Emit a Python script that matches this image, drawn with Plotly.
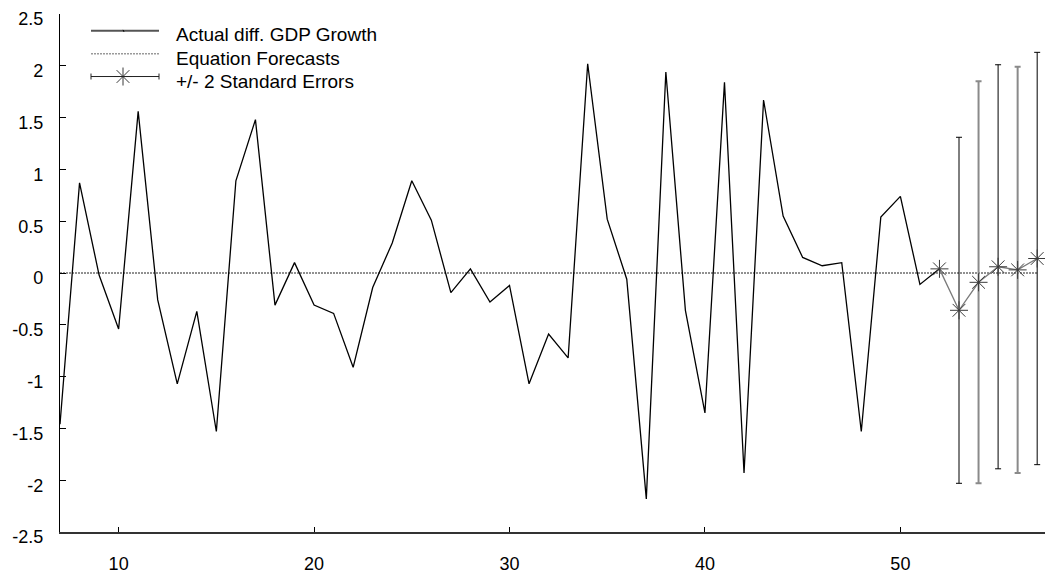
import plotly.graph_objects as go

# Observed series: differenced GDP growth, periods 7..52
actual_x = list(range(7, 53))
actual_y = [-1.46, 0.87, -0.02, -0.54, 1.56, -0.26, -1.07, -0.37, -1.53, 0.89,
            1.48, -0.31, 0.10, -0.31, -0.39, -0.91, -0.14, 0.29, 0.89, 0.51,
            -0.19, 0.04, -0.28, -0.12, -1.07, -0.59, -0.82, 2.02, 0.52, -0.06,
            -2.18, 1.94, -0.36, -1.35, 1.84, -1.93, 1.67, 0.55, 0.15, 0.07,
            0.10, -1.53, 0.54, 0.74, -0.11, 0.04]

# Equation forecasts, periods 52..57
fc_x = list(range(52, 58))
fc_y = [0.04, -0.36, -0.09, 0.06, 0.03, 0.14]

# +/- 2 standard errors for forecast periods 53..57
se2 = [1.67, 1.94, 1.95, 1.96, 1.99]

x_ticks = [10, 20, 30, 40, 50]
y_ticks = [2.5, 2, 1.5, 1, 0.5, 0, -0.5, -1, -1.5, -2, -2.5]
y_tick_text = ["2.5", "2", "1.5", "1", "0.5", "0", "-0.5", "-1", "-1.5", "-2", "-2.5"]

FONT = "Liberation Sans, Arial, sans-serif"
TICK_FS = 18
LEG_FS = 19
STAR = "#3a3a3a"

fig = go.Figure()

# zero reference line spanning the sample and forecast horizon
fig.add_trace(go.Scatter(
    x=[actual_x[0], fc_x[-1]], y=[0, 0], mode="lines",
    line=dict(color="#222222", width=1, dash="2px,1px"),
    showlegend=False, hoverinfo="skip"))

# actual series
fig.add_trace(go.Scatter(
    x=actual_x, y=actual_y, mode="lines",
    line=dict(color="#000000", width=1.3),
    showlegend=False))

# error bars, alternating black / grey
bar_x = fc_x[1:]
bar_y = fc_y[1:]
for start, col, w in [(0, "#000000", 1.0), (1, "#8a8a8a", 2.0)]:
    fig.add_trace(go.Scatter(
        x=bar_x[start::2], y=bar_y[start::2], mode="markers",
        marker=dict(size=1, color="rgba(0,0,0,0)"),
        error_y=dict(type="data", array=se2[start::2], symmetric=True,
                     color=col, thickness=w, width=3),
        showlegend=False, hoverinfo="skip"))

# forecast path with star markers
fig.add_trace(go.Scatter(
    x=fc_x, y=fc_y, mode="lines+markers",
    line=dict(color="#7a7a7a", width=1.3),
    marker=dict(symbol="asterisk-open", size=15, color=STAR,
                line=dict(color=STAR, width=1)),
    showlegend=False))

# legend drawn on a pixel-scaled overlay axis
leg_rows = [31, 54, 77]
leg_text_y = [35, 58.5, 82]
leg_x0, leg_x1, leg_mid, leg_tx = 91, 159, 123, 174
fig.add_shape(type="line", xref="x2", yref="y2", x0=leg_x0, x1=leg_x1,
              y0=leg_rows[0], y1=leg_rows[0], line=dict(color="#555555", width=2))
fig.add_shape(type="line", xref="x2", yref="y2", x0=leg_mid, x1=leg_mid + 1,
              y0=leg_rows[0] - 1, y1=leg_rows[0] + 1, line=dict(color="#000000", width=1))
fig.add_shape(type="line", xref="x2", yref="y2", x0=leg_x0, x1=leg_x1,
              y0=leg_rows[1], y1=leg_rows[1],
              line=dict(color="#9a9a9a", width=1.5, dash="2px,1px"))
fig.add_shape(type="line", xref="x2", yref="y2", x0=leg_x0, x1=leg_x1,
              y0=leg_rows[2], y1=leg_rows[2], line=dict(color="#222222", width=1))
for xc in (leg_x0, leg_x1):
    fig.add_shape(type="line", xref="x2", yref="y2", x0=xc, x1=xc,
                  y0=leg_rows[2] - 3, y1=leg_rows[2] + 3,
                  line=dict(color="#222222", width=1))
fig.add_trace(go.Scatter(
    x=[leg_mid], y=[leg_rows[2]], xaxis="x2", yaxis="y2", mode="markers",
    marker=dict(symbol="asterisk-open", size=15, color=STAR,
                line=dict(color=STAR, width=1)),
    showlegend=False, hoverinfo="skip"))

labels = ["Actual diff. GDP Growth", "Equation Forecasts", "+/- 2 Standard Errors"]
for ty, txt in zip(leg_text_y, labels):
    fig.add_annotation(x=leg_tx, y=ty, xref="x2", yref="y2", text=txt,
                       showarrow=False, xanchor="left", yanchor="middle",
                       font=dict(family=FONT, size=LEG_FS, color="#000000"))

fig.update_layout(
    width=1045, height=574,
    margin=dict(l=60, r=0, t=14, b=38),
    paper_bgcolor="white", plot_bgcolor="white",
    font=dict(family=FONT, size=TICK_FS, color="#000000"),
    showlegend=False,
    xaxis=dict(range=[7, 57.4], tickvals=x_ticks, ticks="inside", ticklen=5,
               tickwidth=1, tickcolor="#000000", showgrid=False, zeroline=False,
               showline=True, linecolor="#333333", linewidth=2,
               ticklabelstandoff=14),
    yaxis=dict(range=[-2.5, 2.5], tickvals=y_ticks, ticktext=y_tick_text,
               ticks="inside", ticklen=6, tickwidth=1, tickcolor="#000000",
               showgrid=False, zeroline=False, showline=True,
               linecolor="#000000", linewidth=1.2, ticklabelstandoff=12,
               ticklabelshift=5, ticklabeloverflow="allow"),
    xaxis2=dict(overlaying="x", range=[60, 1045], visible=False, fixedrange=True),
    yaxis2=dict(overlaying="y", range=[536, 14], visible=False, fixedrange=True),
)

fig.write_html("out.html")
